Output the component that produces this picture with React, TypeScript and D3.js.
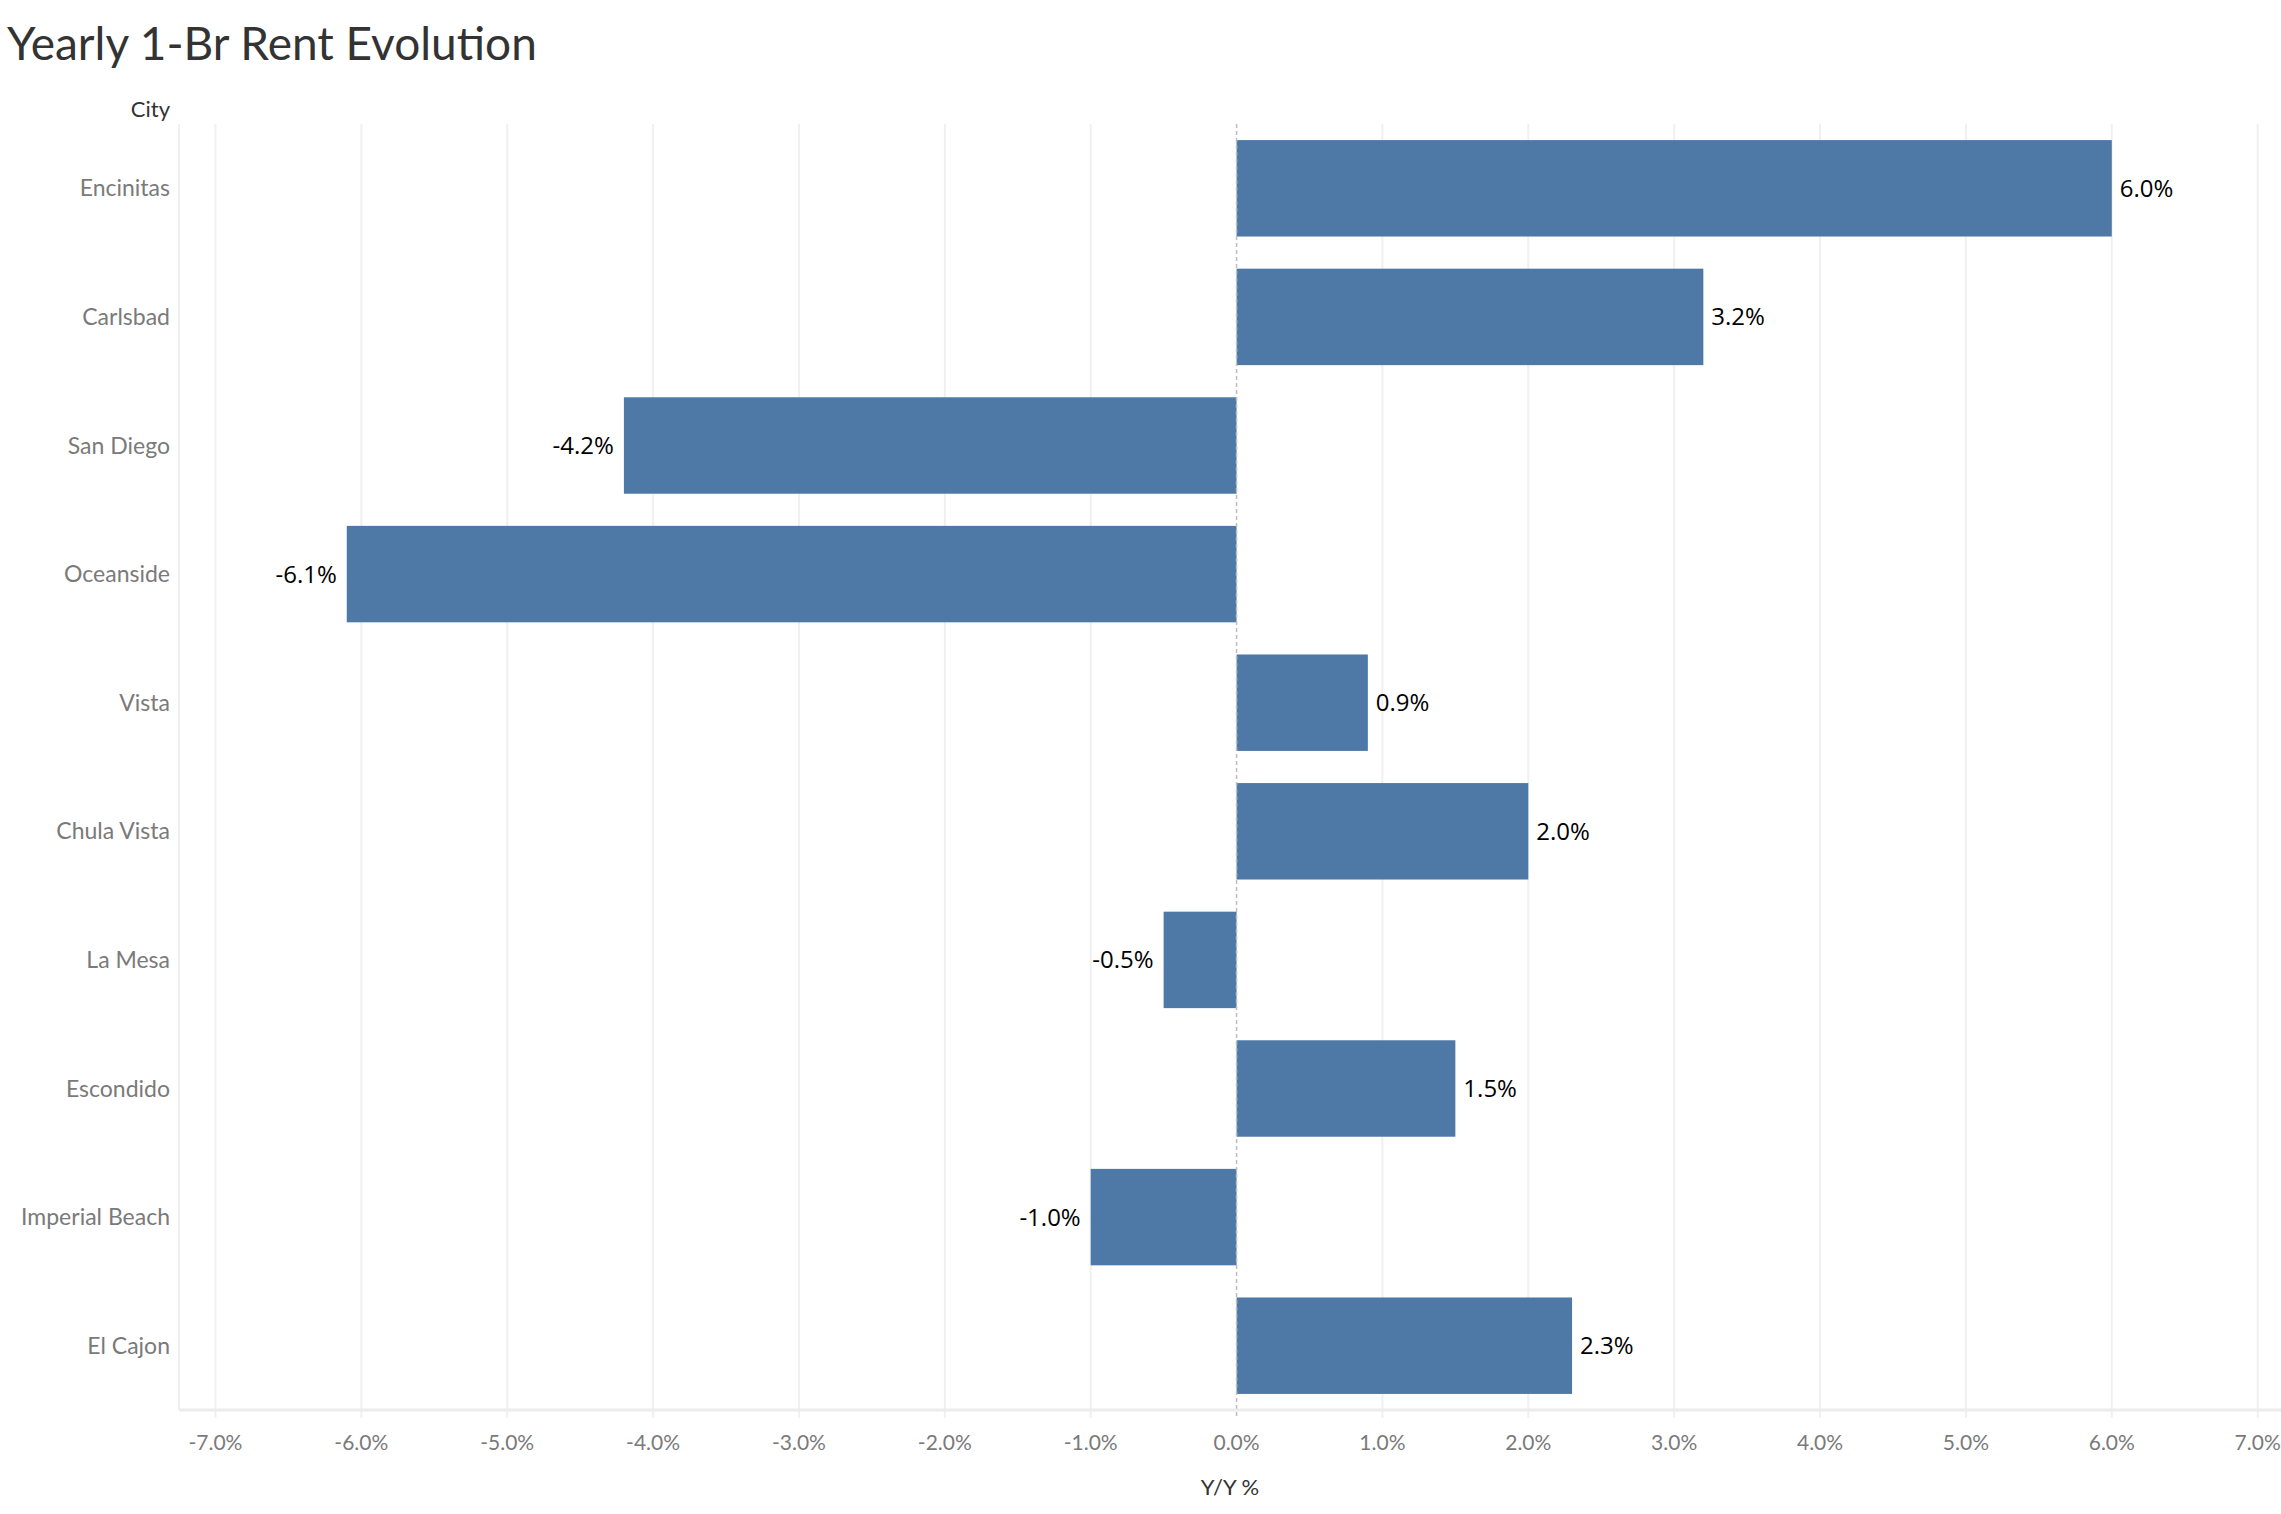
import React, { useRef, useEffect } from "react";
import * as d3 from "d3";

const cities = [
  "Encinitas",
  "Carlsbad",
  "San Diego",
  "Oceanside",
  "Vista",
  "Chula Vista",
  "La Mesa",
  "Escondido",
  "Imperial Beach",
  "El Cajon",
];
const yoyValues = [6.0, 3.2, -4.2, -6.1, 0.9, 2.0, -0.5, 1.5, -1.0, 2.3];
const tickValues = [-7, -6, -5, -4, -3, -2, -1, 0, 1, 2, 3, 4, 5, 6, 7];

const W = 2281;
const H = 1514;

const pct = (v: number) => v.toFixed(1) + "%";

const App: React.FC = () => {
  const ref = useRef<SVGSVGElement | null>(null);

  useEffect(() => {
    const svg = d3.select(ref.current);
    svg.selectAll("*").remove();

    const left = 179;
    const right = W;
    const top = 124;
    const bottom = 1410;
    const font = "Lato, 'Open Sans', sans-serif";

    const x = d3.scaleLinear().domain([-7.25, 7.16]).range([left, right]);
    const y = d3
      .scaleBand<string>()
      .domain(cities)
      .range([top, bottom])
      .paddingInner(0.25)
      .paddingOuter(0.125);

    const data = cities.map((c, i) => ({ city: c, value: yoyValues[i] }));

    // title
    svg
      .append("text")
      .attr("x", 7)
      .attr("y", 60)
      .attr("font-family", font)
      .attr("font-size", 46)
      .attr("fill", "#333333")
      .text("Yearly 1-Br Rent Evolution");

    // gridlines
    svg
      .append("g")
      .selectAll("line")
      .data(tickValues.filter((t) => t !== 0))
      .enter()
      .append("line")
      .attr("x1", (d) => x(d))
      .attr("x2", (d) => x(d))
      .attr("y1", top)
      .attr("y2", bottom + 8)
      .attr("stroke", "#f0f0f0")
      .attr("stroke-width", 2);

    // left border
    svg
      .append("line")
      .attr("x1", left)
      .attr("x2", left)
      .attr("y1", top)
      .attr("y2", bottom)
      .attr("stroke", "#f0f0f0")
      .attr("stroke-width", 2);

    // bars
    svg
      .append("g")
      .selectAll("rect")
      .data(data)
      .enter()
      .append("rect")
      .attr("x", (d) => x(Math.min(0, d.value)))
      .attr("width", (d) => Math.abs(x(d.value) - x(0)))
      .attr("y", (d) => y(d.city)!)
      .attr("height", y.bandwidth())
      .attr("fill", "#4e79a7");

    // zero line
    svg
      .append("line")
      .attr("x1", x(0))
      .attr("x2", x(0))
      .attr("y1", top)
      .attr("y2", bottom + 8)
      .attr("stroke", "#bdbdbd")
      .attr("stroke-width", 1.5)
      .attr("stroke-dasharray", "4,3");

    // bottom axis line
    svg
      .append("line")
      .attr("x1", left)
      .attr("x2", right)
      .attr("y1", bottom)
      .attr("y2", bottom)
      .attr("stroke", "#ececec")
      .attr("stroke-width", 3);

    // bar labels
    svg
      .append("g")
      .selectAll("text")
      .data(data)
      .enter()
      .append("text")
      .attr("x", (d) => (d.value >= 0 ? x(d.value) + 8 : x(d.value) - 10))
      .attr("y", (d) => y(d.city)! + y.bandwidth() / 2)
      .attr("dy", "0.35em")
      .attr("text-anchor", (d) => (d.value >= 0 ? "start" : "end"))
      .attr("font-family", "'Open Sans', sans-serif")
      .attr("font-size", 24)
      .attr("fill", "#000000")
      .text((d) => pct(d.value));

    // category labels
    svg
      .append("g")
      .selectAll("text")
      .data(cities)
      .enter()
      .append("text")
      .attr("x", 170)
      .attr("y", (d) => y(d)! + y.bandwidth() / 2)
      .attr("dy", "0.35em")
      .attr("text-anchor", "end")
      .attr("font-family", font)
      .attr("font-size", 23)
      .attr("fill", "#7a7a7a")
      .text((d) => d);

    svg
      .append("text")
      .attr("x", 170)
      .attr("y", 109)
      .attr("dy", "0.35em")
      .attr("text-anchor", "end")
      .attr("font-family", font)
      .attr("font-size", 22)
      .attr("fill", "#333333")
      .text("City");

    // tick labels
    svg
      .append("g")
      .selectAll("text")
      .data(tickValues)
      .enter()
      .append("text")
      .attr("x", (d) => x(d))
      .attr("y", 1443)
      .attr("dy", "0.35em")
      .attr("text-anchor", "middle")
      .attr("font-family", font)
      .attr("font-size", 21)
      .attr("fill", "#7a7a7a")
      .text((d) => pct(d));

    svg
      .append("text")
      .attr("x", (left + right) / 2)
      .attr("y", 1487)
      .attr("dy", "0.35em")
      .attr("text-anchor", "middle")
      .attr("font-family", font)
      .attr("font-size", 22)
      .attr("fill", "#333333")
      .text("Y/Y %");
  }, []);

  return (
    <svg
      ref={ref}
      width={W}
      height={H}
      style={{ position: "absolute", left: 0, top: 0, background: "#fff" }}
    />
  );
};

export default App;
